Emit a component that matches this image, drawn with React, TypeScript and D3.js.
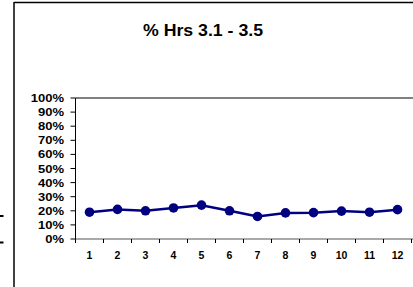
import React from "react";
import * as d3 from "d3";

const categories = ["1", "2", "3", "4", "5", "6", "7", "8", "9", "10", "11", "12"];
const values = [0.19, 0.21, 0.2, 0.22, 0.24, 0.2, 0.16, 0.185, 0.187, 0.198, 0.19, 0.208];
const yTicks = [0, 0.1, 0.2, 0.3, 0.4, 0.5, 0.6, 0.7, 0.8, 0.9, 1.0];
const title = "% Hrs 3.1 - 3.5";

export default function App() {
  const W = 413, H = 287;
  const left = 75.5, right = 411.5, top = 98, bottom = 239;
  const x = d3.scaleBand<string>().domain(categories).range([left, right]);
  const y = d3.scaleLinear().domain([0, 1]).range([bottom, top]);
  const line = d3.line<number>()
    .x((_, i) => (x(categories[i]) as number) + x.bandwidth() / 2)
    .y((d) => y(d));
  const font = "'Liberation Sans', Arial, sans-serif";
  return (
    <svg width={W} height={H} style={{ position: "absolute", left: 0, top: 0 }}>
      <rect x={0} y={0} width={W} height={H} fill="#fff" />
      <line x1={14} y1={2} x2={14} y2={H} stroke="#000" strokeWidth={1.5} />
      <line x1={14} y1={2.5} x2={W} y2={2.5} stroke="#000" strokeWidth={1.5} />
      <line x1={0} y1={216} x2={3.5} y2={216} stroke="#000" strokeWidth={2} />
      <line x1={0} y1={242.5} x2={3.5} y2={242.5} stroke="#000" strokeWidth={2} />
      <text x={203} y={35.5} textAnchor="middle" fontFamily={font} fontWeight="bold" fontSize={16} textLength={120} lengthAdjust="spacingAndGlyphs">{title}</text>
      <line x1={left} y1={top} x2={W} y2={top} stroke="#808080" strokeWidth={2} />
      <line x1={left} y1={top} x2={left} y2={bottom} stroke="#000" strokeWidth={1} />
      {yTicks.map((t) => (
        <g key={t}>
          <line x1={left - 5} y1={y(t)} x2={left} y2={y(t)} stroke="#000" strokeWidth={1} />
          <text transform={`translate(${64},${y(t) + 4}) scale(1.18,1)`} textAnchor="end" fontFamily={font} fontWeight="bold" fontSize={11}>
            {d3.format(".0%")(t)}
          </text>
        </g>
      ))}
      <line x1={left} y1={bottom} x2={W} y2={bottom} stroke="#555" strokeWidth={1.2} />
      {categories.map((c) => (
        <g key={c}>
          <line x1={(x(c) as number) + x.bandwidth()} y1={bottom} x2={(x(c) as number) + x.bandwidth()} y2={bottom + 4} stroke="#000" strokeWidth={1} />
          <text x={(x(c) as number) + x.bandwidth() / 2} y={258.5} textAnchor="middle" fontFamily={font} fontWeight="bold" fontSize={10.5}>{c}</text>
        </g>
      ))}
      <line x1={left} y1={bottom} x2={left} y2={bottom + 4} stroke="#000" strokeWidth={1} />
      <path d={line(values) || ""} fill="none" stroke="#000080" strokeWidth={2.5} />
      {values.map((v, i) => (
        <circle key={i} cx={(x(categories[i]) as number) + x.bandwidth() / 2} cy={y(v)} r={4.8} fill="#000080" />
      ))}
    </svg>
  );
}
